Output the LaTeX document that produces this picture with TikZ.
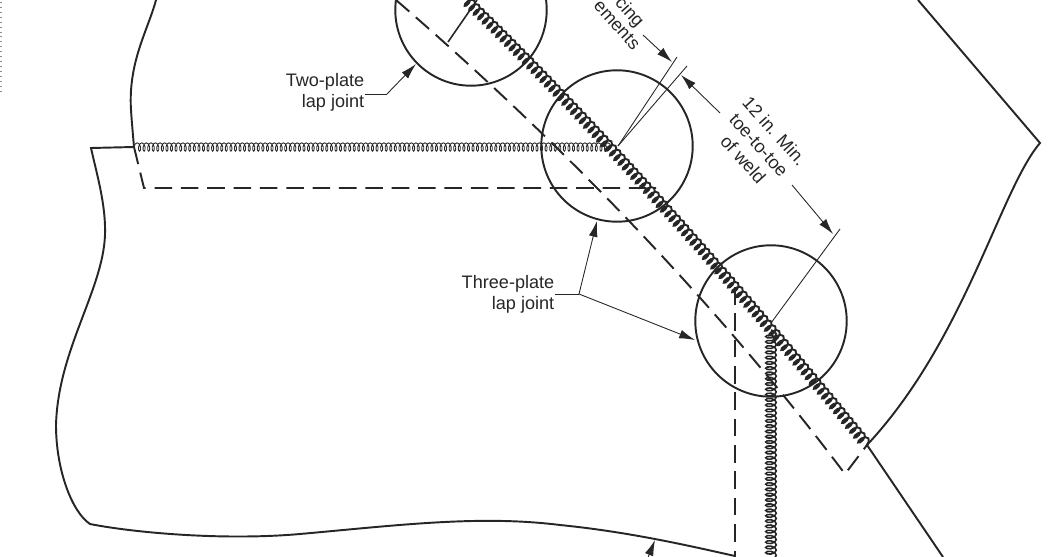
\documentclass[tikz,border=0pt]{standalone}
\usepackage{fontspec}
\setmainfont{Liberation Sans}
\usepackage{tikz}
\usetikzlibrary{arrows.meta}
\usetikzlibrary{decorations.pathmorphing}

\begin{document}
\begin{tikzpicture}[x=0.02cm,y=-0.02cm,
		outline/.style={line width=1.1pt,black!85},
		hidden/.style={line width=1.1pt,black!85,dash pattern=on 10pt off 5pt},
		leader/.style={line width=0.5pt,black!85},
		pointer/.style={leader,-{Latex[length=9pt,width=5pt]}},
		lbl/.style={font=\fontsize{10.3}{12}\selectfont,text=black!85,inner sep=0pt,align=right},
		mainweld/.style={line width=1.1pt,black!85,decorate,decoration={coil,aspect=0.5,segment length=3.6pt,amplitude=3pt}},
		sideweld/.style={line width=0.5pt,black!85,decorate,decoration={coil,aspect=0.5,segment length=2.6pt,amplitude=2.4pt}},
		stemweld/.style={line width=0.9pt,black!85,decorate,decoration={coil,aspect=0.5,segment length=3pt,amplitude=3pt}}]
		\useasboundingbox (0,0) rectangle (1061,557);
		% corners and ends
		\coordinate (topplate) at (156,0);
		\coordinate (weldleft) at (134,147);
		\coordinate (corner) at (91,148);
		\coordinate (hiddenright) at (656,188);
		\coordinate (hiddenleft) at (144,188);
		\coordinate (weldend) at (867,445);
		\coordinate (hiddentip) at (845,474);
		\coordinate (rightpeak) at (1040,143);
		\coordinate (toeone) at (618,146);
		\coordinate (toetwo) at (771,323);
		% plate outlines
		\draw[outline] (topplate) .. controls (148,30) and (128,62) .. (131,110) .. controls (132,125) and (133,135) .. (weldleft);
		\draw[outline] (weldleft) -- (corner)
			.. controls (97,175) and (106,205) .. (105,235)
			.. controls (103,290) and (58,350) .. (56,425)
			.. controls (56,470) and (72,512) .. (90,524)
			.. controls (130,532) and (220,541) .. (300,534)
			.. controls (400,525) and (480,515) .. (560,525)
			.. controls (630,532) and (690,546) .. (735,556);
		\draw[outline] (918,0) -- (rightpeak)
			.. controls (1000,190) and (965,340) .. (weldend) -- (943,557);
		% hidden edges
		\draw[hidden] (weldleft) -- (hiddenleft) -- (hiddenright);
		\draw[hidden] (396,0) .. controls (500,90) and (680,255) .. (hiddentip) -- (weldend);
		\draw[hidden] (735,287) -- (735,557);
		% welds
		\draw[sideweld] (weldleft) -- (612,147);
		\draw[mainweld] (463,-3) .. controls (560,90) and (700,240) .. (weldend);
		\draw[stemweld] (771,330) -- (771,560);
		% circles
		\node[circle,draw,outline,minimum size=152*0.567pt,inner sep=0pt] (twoplate) at (471,10) {};
		\node[circle,draw,outline,minimum size=152*0.567pt,inner sep=0pt] (threeupper) at (617,146) {};
		\node[circle,draw,outline,minimum size=152*0.567pt,inner sep=0pt] (threelower) at (771,321) {};
		% extension lines
		\coordinate (extone) at (677,57);
		\coordinate (exttwo) at (687,66);
		\coordinate (extthree) at (840,229);
		\draw[leader] (toeone) -- (extone);
		\draw[leader] (toeone) -- (exttwo);
		\draw[leader] (toetwo) -- (extthree);
		\draw[line width=0.9pt,black!85] (448,42) -- (477,0);
		% labels
		\node[lbl] (twolabel) at (325,92) {Two-plate\\lap joint};
		\node[lbl] (threelabel) at (508,294) {Three-plate\\lap joint};
		\node[lbl,rotate=-48,anchor=center] (spacingone) at (629,13) {cing};
		\node[lbl,rotate=-48,anchor=center] (spacingtwo) at (617,25) {ements};
		\node[lbl,rotate=-48,align=center] (toelabel) at (759,145) {12 in. Min.\\toe-to-toe\\of weld};
		% leaders
		\coordinate (twoknee) at (387,94);
		\coordinate (threeknee) at (579,294);
		\draw[leader] (twolabel.east |- twoknee) -- (twoknee);
		\draw[pointer] (twoknee) -- (416,64);
		\draw[leader] (threelabel.east |- threeknee) -- (threeknee);
		\draw[pointer] (threeknee) -- (597,221);
		\draw[pointer] (threeknee) -- (695,340);
		\draw[pointer] (643,35) -- (672,62);
		\draw[pointer] (720,113) -- (681,75);
		\draw[pointer] (792,185) -- (833,234);
		\draw[pointer] (647,560) -- (655,540);
		% scan specks
		\draw[line width=0.8pt,black!45,dash pattern=on 0.6pt off 2.2pt] (1,2) -- (1,95);
	\end{tikzpicture}
\end{document}
